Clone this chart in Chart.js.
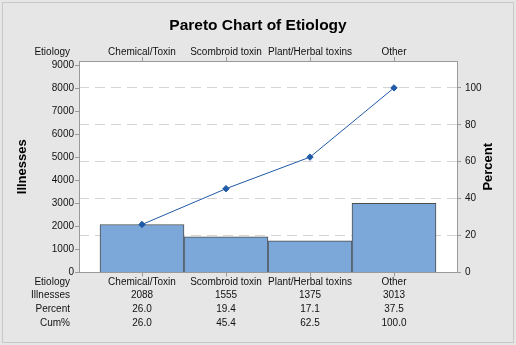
<!DOCTYPE html>
<html>
<head>
<meta charset="utf-8">
<script src="https://cdn.jsdelivr.net/npm/chart.js@4.4.1/dist/chart.umd.min.js"></script>
<style>
  html, body { margin: 0; padding: 0; background: #e6e6e6; }
  canvas { display: block; }
</style>
</head>
<body>
<canvas id="c" width="516" height="345"></canvas>
<script>
// ---- data ----
const chartTitle = 'Pareto Chart of Etiology';
const categories = ['Chemical/Toxin', 'Scombroid toxin', 'Plant/Herbal toxins', 'Other'];
const illnesses = [2088, 1555, 1375, 3013];
const percents = [26.0, 19.4, 17.1, 37.5];
const cumPercents = [26.0, 45.4, 62.5, 100.0];
const countTicks = [0, 1000, 2000, 3000, 4000, 5000, 6000, 7000, 8000, 9000];
const percentTicks = [0, 20, 40, 60, 80, 100];
const rowHeaders = ['Etiology', 'Illnesses', 'Percent', 'Cum%'];
const leftAxisTitle = 'Illnesses';
const rightAxisTitle = 'Percent';

// ---- layout / style ----
const FONT = "'Liberation Sans', Arial, sans-serif";
const TEXT = '#111111';
const AXIS = '#9a9a9a';
const TICK_LEN = 4;
const ROW_LH = 13.8;
const ROW_PAD = -1.5;
const COUNT_MAX = 9200;
const total = illnesses.reduce((a, b) => a + b, 0);
const PCT_MAX = COUNT_MAX / total * 100;
const AREA = { left: 79, right: 457, top: 61, bottom: 272.5 };
const TITLE_FONT = 15.5, TITLE_PAD_T = 16, TITLE_PAD_B = 8;
const TITLE_H = TITLE_FONT * 1.2 + TITLE_PAD_T + TITLE_PAD_B;

Chart.defaults.font.family = FONT;
Chart.defaults.font.size = 10;
Chart.defaults.color = TEXT;

const bgPlugin = {
  id: 'bg',
  beforeDraw(chart) {
    const c = chart.ctx, a = chart.chartArea;
    c.save();
    c.fillStyle = '#e6e6e6';
    c.fillRect(0, 0, chart.width, chart.height);
    c.strokeStyle = '#c9c9c9';
    c.lineWidth = 1;
    c.strokeRect(2.5, 2.5, chart.width - 5, chart.height - 5);
    c.fillStyle = '#ffffff';
    c.fillRect(a.left, a.top, a.right - a.left, a.bottom - a.top);
    c.restore();
  },
  afterDraw(chart) {
    const c = chart.ctx, a = chart.chartArea;
    const xs = chart.scales.x, xt = chart.scales.xTop;
    c.save();
    c.font = '10px ' + FONT;
    c.fillStyle = TEXT;
    c.textAlign = 'right';
    c.textBaseline = 'middle';
    const hx = a.left - 9;
    rowHeaders.forEach((h, i) => {
      c.fillText(h, hx, xs.top + TICK_LEN + ROW_PAD + ROW_LH / 2 + i * ROW_LH);
    });
    c.fillText(rowHeaders[0], hx, xt.bottom - TICK_LEN - 5);
    // axis titles
    c.font = 'bold 13px ' + FONT;
    c.fillStyle = '#000';
    c.textAlign = 'center';
    const cy = (a.top + a.bottom) / 2;
    c.translate(22.5, cy);
    c.rotate(-Math.PI / 2);
    c.fillText(leftAxisTitle, 0, 0);
    c.setTransform(1, 0, 0, 1, 0, 0);
    c.translate(488, cy);
    c.rotate(-Math.PI / 2);
    c.fillText(rightAxisTitle, 0, 0);
    c.restore();
  }
};

const catIdx = categories.map((_, i) => i);
const setCatTicks = (s) => { s.ticks = catIdx.map(v => ({ value: v })); };

new Chart(document.getElementById('c'), {
  data: {
    datasets: [
      {
        type: 'line',
        label: 'Cum%',
        data: cumPercents.map((v, i) => ({ x: i, y: v })),
        xAxisID: 'x',
        yAxisID: 'yPct',
        borderColor: '#1f5aa6',
        backgroundColor: '#1f5aa6',
        borderWidth: 1,
        pointStyle: 'rectRot',
        pointRadius: 3.2,
        pointBorderWidth: 1,
        tension: 0,
        order: 0
      },
      {
        type: 'bar',
        label: 'Illnesses',
        data: illnesses.map((v, i) => ({ x: i, y: v })),
        xAxisID: 'x',
        yAxisID: 'y',
        backgroundColor: '#7ba7d9',
        borderColor: '#4d4d4d',
        borderWidth: 1,
        barPercentage: 1,
        categoryPercentage: 1,
        order: 1
      }
    ]
  },
  options: {
    responsive: false,
    animation: false,
    events: [],
    layout: { padding: 0 },
    plugins: {
      legend: { display: false },
      tooltip: { enabled: false },
      title: {
        display: true,
        text: chartTitle,
        color: '#000',
        font: { size: TITLE_FONT, weight: 'bold', family: FONT },
        padding: { top: TITLE_PAD_T, bottom: TITLE_PAD_B }
      }
    },
    scales: {
      x: {
        type: 'linear',
        position: 'bottom',
        offset: false,
        min: -0.75,
        max: 3.75,
        afterBuildTicks: setCatTicks,
        afterFit: (s) => { s.height = 345 - AREA.bottom; },
        grid: { display: true, offset: false, drawOnChartArea: false, drawTicks: true, tickLength: TICK_LEN, color: AXIS },
        border: { display: true, color: AXIS, width: 1 },
        ticks: {
          autoSkip: false, maxRotation: 0, minRotation: 0, padding: ROW_PAD,
          font: { size: 10, lineHeight: ROW_LH + 'px' },
          color: TEXT,
          callback: (v) => {
            const i = Math.round(v);
            return [categories[i], String(illnesses[i]), percents[i].toFixed(1), cumPercents[i].toFixed(1)];
          }
        }
      },
      xTop: {
        type: 'linear',
        position: 'top',
        offset: false,
        min: -0.75,
        max: 3.75,
        afterBuildTicks: setCatTicks,
        afterFit: (s) => { s.height = AREA.top - TITLE_H; },
        grid: { display: true, offset: false, drawOnChartArea: false, drawTicks: true, tickLength: TICK_LEN, color: AXIS },
        border: { display: true, color: AXIS, width: 1 },
        ticks: {
          autoSkip: false, maxRotation: 0, minRotation: 0, padding: 0,
          font: { size: 10, lineHeight: 1.0 },
          color: TEXT,
          callback: (v) => categories[Math.round(v)]
        }
      },
      y: {
        type: 'linear',
        position: 'left',
        min: 0,
        max: COUNT_MAX,
        afterBuildTicks: (s) => { s.ticks = countTicks.map(v => ({ value: v })); },
        afterFit: (s) => { s.width = AREA.left; },
        grid: { display: true, drawOnChartArea: false, drawTicks: true, tickLength: TICK_LEN, color: AXIS },
        border: { display: true, color: AXIS, width: 1 },
        ticks: { padding: 1, color: TEXT, font: { size: 10 }, callback: (v) => String(v) }
      },
      yPct: {
        type: 'linear',
        position: 'right',
        min: 0,
        max: PCT_MAX,
        afterBuildTicks: (s) => { s.ticks = percentTicks.map(v => ({ value: v })); },
        afterFit: (s) => { s.width = 516 - AREA.right; },
        grid: {
          display: true, drawOnChartArea: true, drawTicks: true, tickLength: TICK_LEN,
          color: '#d4d4d4', tickColor: AXIS
        },
        border: { display: true, color: AXIS, width: 1, dash: [10, 6] },
        ticks: { padding: 4, color: TEXT, font: { size: 10 }, callback: (v) => String(v) }
      }
    }
  },
  plugins: [bgPlugin]
});
</script>
</body>
</html>
